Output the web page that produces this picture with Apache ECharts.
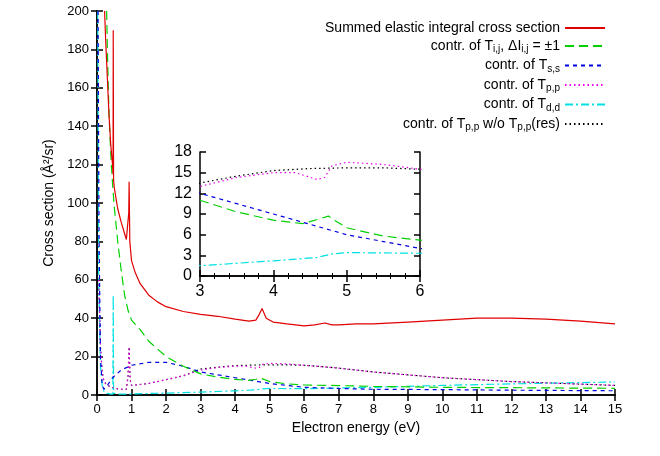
<!DOCTYPE html>
<html><head><meta charset="utf-8">
<script src="https://cdn.jsdelivr.net/npm/echarts@6/dist/echarts.min.js"></script>
<style>html,body{margin:0;padding:0;background:#fff}#c{width:660px;height:456px}</style>
</head><body><div id="c"></div>
<script>
const sumX=[0.22,0.25,0.3,0.35,0.4,0.45,0.465,0.47,0.48,0.5,0.6,0.7,0.8,0.85,0.88,0.92,0.93,0.95,1.0,1.1,1.25,1.5,1.75,2,2.5,3,3.5,4,4.4,4.6,4.7,4.78,4.9,5.1,5.5,6,6.3,6.6,6.8,7,7.5,8,9,10,11,12,13,14,15];
const sumY=[200,185,165,145,130,120,115,190,112,108,97,90,84,81,80,95,111,80,70,64,58,52,48.5,46,43.5,42,41,39.5,38.5,39,42,45,40,38,37,36,36.5,37.5,36.5,36.5,37,37,38,39,40,40,39.5,38.5,37];
const grX=[0.28,0.3,0.35,0.4,0.45,0.5,0.6,0.7,0.8,0.9,1,1.25,1.5,2,2.5,3,3.5,4,4.4,4.6,4.75,4.85,5,5.5,6,7,8,10,12,15];
const grY=[200,180,145,125,110,98,80,65,52,44,39,34,28,20,15,11,9.3,8.1,7.6,8.2,8.7,8,7,5.8,5.2,4.9,4.5,4,3.8,3.5];
const blX=[0.03,0.06,0.1,0.15,0.2,0.3,0.45,0.5,0.7,1,1.5,2,2.5,3,3.5,4,4.5,5,5.5,6,7,8,10,12,15];
const blY=[200,80,20,5,3,5,9,10,13,15.5,17,17,15,12,10.5,9,7.5,6,5,4,3.4,3,2.8,2.5,2.2];
const mgX=[0.05,0.1,0.15,0.2,0.3,0.5,0.7,0.85,0.9,0.93,0.96,1,1.5,2,2.5,3,3.5,4,4.3,4.6,4.7,4.8,5,5.5,6,7,8,9,10,12,15];
const mgY=[60,25,12,7,5,3.5,3,3,10,25,8,5,6,8,10,13,14.3,15,15,14,14.3,16,16.5,16.2,15.5,14,12,10.5,9,7,5];
const bkX=[0.05,0.1,0.15,0.2,0.3,0.5,0.7,0.85,0.9,0.93,0.96,1,1.5,2,2.5,3,3.5,4,4.5,5,5.5,6,7,8,9,10,12,15];
const bkY=[60,25,12,7,5,3.5,3,3,10,25,8,5,6,8,10,13.5,14.5,15.3,15.6,15.7,15.7,15.5,14,12,10.5,9,7,5];
const cyX=[0.02,0.05,0.1,0.15,0.2,0.3,0.4,0.46,0.47,0.48,0.6,1,1.5,2,3,4,4.6,4.8,5,6,8,10,12,15];
const cyY=[200,60,15,5,2,0.8,0.5,0.5,52,1,0.5,0.5,0.8,1,1.5,2.2,2.7,3.2,3.4,3.3,4,5,5.8,6.8];
const names=['Summed elastic integral cross section','contr. of T{s|i,j}, ΔI{s|i,j} = ±1','contr. of T{s|s,s}','contr. of T{s|p,p}','contr. of T{s|d,d}','contr. of T{s|p,p} w/o T{s|p,p}(res)'];
const defs=[[sumX,sumY,'#e00000','solid'],[grX,grY,'#00d000',[9,5]],[blX,blY,'#0000e0',[4,4]],[mgX,mgY,'#f000f0',[1.5,3]],[cyX,cyY,'#00e0e0',[8,3,2,3]],[bkX,bkY,'#000000',[1.5,3]]];
const zip=(a,b)=>a.map((x,i)=>[x,b[i]]);
const ax={axisLine:{lineStyle:{color:'#000',width:1.5}},axisTick:{inside:true,length:6,lineStyle:{color:'#000',width:1.5}},splitLine:{show:false},axisLabel:{color:'#000',fontSize:13,fontFamily:'Liberation Sans'}};
const mirror=(o)=>Object.assign({},ax,o,{axisLabel:{show:false}});
const series=[];
defs.forEach((d,i)=>{
  series.push({name:names[i],type:'line',xAxisIndex:0,yAxisIndex:0,data:zip(d[0],d[1]),showSymbol:false,symbol:'none',clip:true,lineStyle:{color:d[2],type:d[3],width:1.2},itemStyle:{color:d[2]},z:10-i});
  if(i>0) series.push({name:names[i],type:'line',xAxisIndex:2,yAxisIndex:2,data:zip(d[0],d[1]),showSymbol:false,symbol:'none',clip:true,lineStyle:{color:d[2],type:d[3],width:1.2},itemStyle:{color:d[2]},z:20});
});
const chart=echarts.init(document.getElementById('c'));
chart.setOption({
  animation:false,
  textStyle:{fontFamily:'Liberation Sans'},
  grid:[{left:97,right:45,top:11,bottom:61},{left:200,width:220,top:152,height:124,backgroundColor:'#fff',show:true,borderWidth:0}],
  xAxis:[
    Object.assign({},ax,{type:'value',min:0,max:15,interval:1,gridIndex:0,name:'Electron energy (eV)',nameLocation:'middle',nameGap:26,nameTextStyle:{color:'#000',fontSize:14}}),
    mirror({type:'value',min:0,max:15,interval:1,gridIndex:0,position:'top'}),
    Object.assign({},ax,{type:'value',min:3,max:6,interval:1,gridIndex:1,minorTick:{show:true,splitNumber:5,lineStyle:{color:'#000'}},axisLabel:Object.assign({},ax.axisLabel,{fontSize:16})}),
    mirror({type:'value',min:3,max:6,interval:1,gridIndex:1,position:'top',minorTick:{show:true,splitNumber:5,lineStyle:{color:'#000'}}})
  ],
  yAxis:[
    Object.assign({},ax,{type:'value',min:0,max:200,interval:20,gridIndex:0,name:'Cross section (Å²/sr)',nameLocation:'middle',nameGap:38,nameTextStyle:{color:'#000',fontSize:14}}),
    mirror({type:'value',min:0,max:200,interval:20,gridIndex:0,position:'right'}),
    Object.assign({},ax,{type:'value',min:0,max:18,interval:3,gridIndex:1,axisLabel:Object.assign({},ax.axisLabel,{fontSize:16})}),
    mirror({type:'value',min:0,max:18,interval:3,gridIndex:1,position:'right'})
  ],
  legend:{orient:'vertical',right:49,top:16,align:'right',itemGap:4,itemWidth:40,itemHeight:16,data:names,itemStyle:{opacity:0},
    textStyle:{color:'#000',fontSize:14,fontFamily:'Liberation Sans',rich:{s:{fontSize:10,verticalAlign:'bottom',padding:[7,0,0,0],color:'#000'}}}},
  series:series
});
</script></body></html>
